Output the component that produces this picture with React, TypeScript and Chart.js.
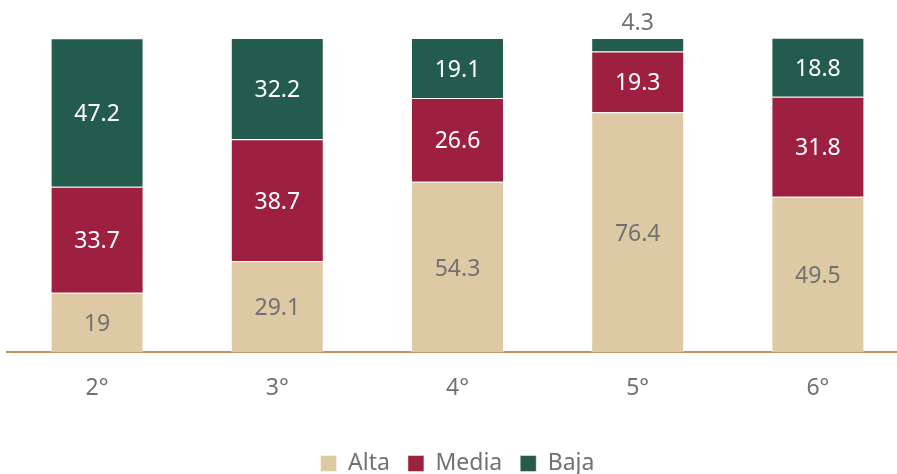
import React, { useEffect, useRef } from "react";
import { Chart, registerables } from "chart.js";

Chart.register(...registerables);

const categories = ["2°", "3°", "4°", "5°", "6°"];
const alta = [19, 29.1, 54.3, 76.4, 49.5];
const media = [33.7, 38.7, 26.6, 19.3, 31.8];
const baja = [47.2, 32.2, 19.1, 4.3, 18.8];

const COLORS = { alta: "#DDC9A3", media: "#9D2041", baja: "#235B4E" };
const GREY = "#6F7271";
const FONT = "'Noto Sans', sans-serif";

const labelPlugin = {
  id: "segLabels",
  afterDatasetsDraw(chart: any) {
    const ctx = chart.ctx;
    ctx.save();
    ctx.font = `23px ${FONT}`;
    ctx.textAlign = "center";
    ctx.textBaseline = "middle";
    chart.data.datasets.forEach((ds: any, di: number) => {
      const meta = chart.getDatasetMeta(di);
      meta.data.forEach((bar: any, i: number) => {
        const v = ds.data[i];
        const h = Math.abs(bar.base - bar.y);
        let y = (bar.y + bar.base) / 2 + 2;
        let color = di === 0 ? GREY : "#ffffff";
        if (h < 26) {
          y = Math.min(bar.y, bar.base) - 15;
          color = GREY;
        }
        ctx.fillStyle = color;
        ctx.fillText(String(v), bar.x, y);
      });
    });
    ctx.restore();
  },
};

export default function App() {
  const ref = useRef<HTMLCanvasElement | null>(null);
  useEffect(() => {
    document.body.style.overflow = "hidden";
    const chart = new Chart(ref.current!, {
      type: "bar",
      data: {
        labels: categories,
        datasets: [
          { label: "Alta", data: alta, backgroundColor: COLORS.alta },
          { label: "Media", data: media, backgroundColor: COLORS.media },
          { label: "Baja", data: baja, backgroundColor: COLORS.baja },
        ].map((d) => ({
          ...d,
          borderColor: "rgba(255,255,255,0.45)",
          borderWidth: 1,
          categoryPercentage: 1,
          barPercentage: 0.516,
        })),
      },
      options: {
        animation: false,
        responsive: false,
        maintainAspectRatio: false,
        layout: { padding: { left: 7, right: 0, top: 38, bottom: 0 } },
        plugins: {
          legend: {
            position: "bottom",
            labels: {
              font: { family: FONT, size: 23 },
              color: GREY,
              boxWidth: 16,
              boxHeight: 16,
              padding: 18,
            },
          },
          tooltip: { enabled: false },
        },
        scales: {
          x: {
            stacked: true,
            grid: { display: false, drawTicks: false },
            border: { display: true, color: "#BC955C", width: 2 },
            ticks: { font: { family: FONT, size: 23 }, color: GREY, padding: 22 },
            afterFit(scale: any) {
              scale.height += 10;
            },
          },
          y: {
            stacked: true,
            display: false,
            min: 0,
            max: 100,
          },
        },
      },
      plugins: [labelPlugin],
    });
    return () => chart.destroy();
  }, []);
  return (
    <div style={{ position: "absolute", left: 0, top: 0, width: 908, height: 485, overflow: "hidden" }}>
      <canvas ref={ref} width={908} height={485} />
    </div>
  );
}
